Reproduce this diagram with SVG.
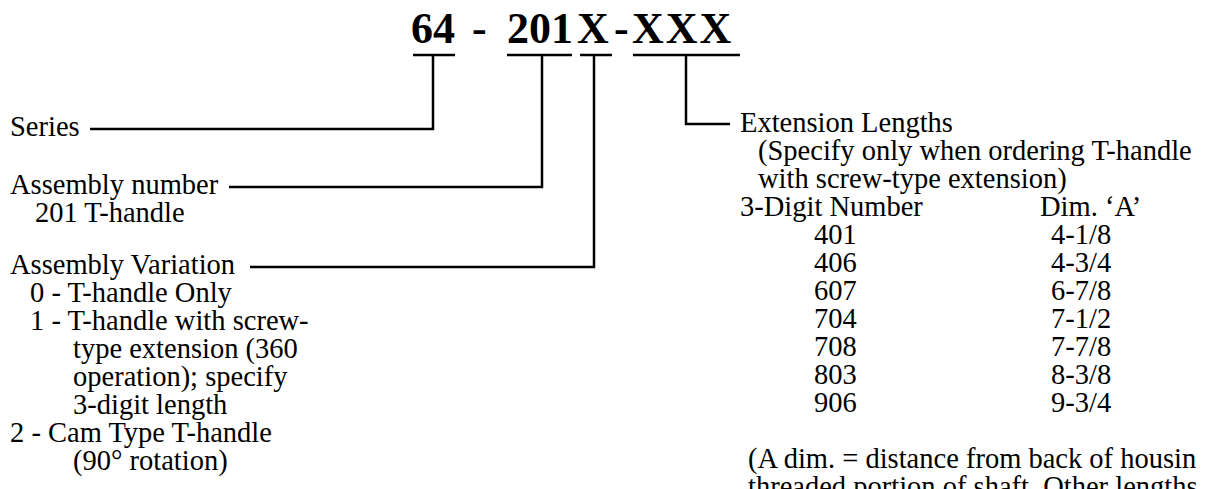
<svg xmlns="http://www.w3.org/2000/svg" width="1213" height="489" viewBox="0 0 1213 489">
<style>
text{font-family:"Liberation Serif","Times New Roman",serif;fill:#000}
.t{font-size:28.5px}
.h{font-size:44px;font-weight:bold}
.ln{stroke:#000;stroke-width:2.5;fill:none}
</style>
<rect width="1213" height="489" fill="#fff"/>
<g id="title">
<text class="h" y="43"><tspan x="411">64</tspan><tspan x="472">-</tspan><tspan x="507">201</tspan><tspan x="577">X</tspan><tspan x="614">-</tspan><tspan x="632" letter-spacing="2">XXX</tspan></text>
</g>
<g id="connectors">
<path class="ln" d="M413 55H455M507 55H572M580 55H612M633 55H740"/>
<path class="ln" d="M433 55V129H90"/>
<path class="ln" d="M542 55V187H229"/>
<path class="ln" d="M594 55V267H250"/>
<path class="ln" d="M686 55V124H730"/>
</g>
<g id="series"><text class="t" x="10" y="136">Series</text></g>
<g id="assembly-number"><text class="t" x="10" y="194">Assembly number</text><text class="t" x="35" y="222">201 T-handle</text></g>
<g id="assembly-variation">
<text class="t" x="10" y="274">Assembly Variation</text>
<text class="t" x="30" y="302">0 - T-handle Only</text>
<text class="t" x="30" y="330">1 - T-handle with screw-</text>
<text class="t" x="73" y="358">type extension (360</text>
<text class="t" x="73" y="386">operation); specify</text>
<text class="t" x="73" y="414">3-digit length</text>
<text class="t" x="10" y="442">2 - Cam Type T-handle</text>
<text class="t" x="73" y="470">(90° rotation)</text>
</g>
<g id="extension-lengths">
<text class="t" x="740" y="132">Extension Lengths</text>
<text class="t" x="758" y="160">(Specify only when ordering T-handle</text>
<text class="t" x="758" y="188">with screw-type extension)</text>
<text class="t" x="740" y="216">3-Digit Number</text>
<text class="t" x="1040" y="216">Dim. ‘A’</text>
<text class="t" x="814" y="244">401</text><text class="t" x="1051" y="244">4-1/8</text>
<text class="t" x="814" y="272">406</text><text class="t" x="1051" y="272">4-3/4</text>
<text class="t" x="814" y="300">607</text><text class="t" x="1051" y="300">6-7/8</text>
<text class="t" x="814" y="328">704</text><text class="t" x="1051" y="328">7-1/2</text>
<text class="t" x="814" y="356">708</text><text class="t" x="1051" y="356">7-7/8</text>
<text class="t" x="814" y="384">803</text><text class="t" x="1051" y="384">8-3/8</text>
<text class="t" x="814" y="412">906</text><text class="t" x="1051" y="412">9-3/4</text>
<text class="t" x="748" y="468">(A dim. = distance from back of housin</text>
<text class="t" x="748" y="496">threaded portion of shaft. Other lengths</text>
</g>
</svg>
